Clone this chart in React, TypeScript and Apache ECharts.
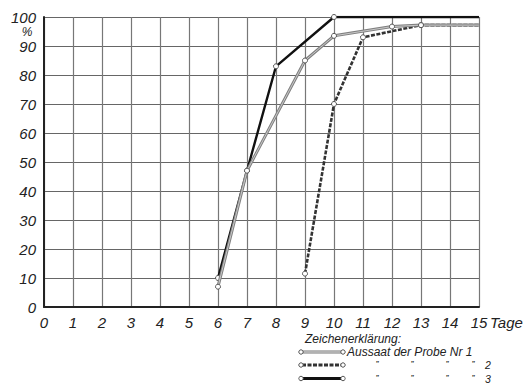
import React, { useEffect, useRef } from "react";
import * as echarts from "echarts";

const xTicks = [0, 1, 2, 3, 4, 5, 6, 7, 8, 9, 10, 11, 12, 13, 14, 15];
const yTicks = [0, 10, 20, 30, 40, 50, 60, 70, 80, 90, 100];

// Aussaat der Probe Nr 1 (grey double line)
const probe1Days = [6, 7, 9, 10, 12, 13, 15];
const probe1Vals = [7, 47, 85, 93.5, 96.7, 97.2, 97.2];
// Probe Nr 2 (dotted)
const probe2Days = [9, 10, 11, 13, 15];
const probe2Vals = [11.5, 70, 93, 97.2, 97.2];
// Probe Nr 3 (solid black)
const probe3Days = [6, 7, 8, 10, 15];
const probe3Vals = [10, 47, 83, 100, 100];

const legendTitle = "Zeichenerklärung:";
const legendRows = ["Aussaat der Probe Nr 1", "2", "3"];

const FONT = "Liberation Sans";

function pts(days: number[], vals: number[], marker: boolean) {
  return days.map((d, i) => ({
    value: [d, vals[i]],
    symbol: marker && i < days.length - 1 ? "circle" : "none",
  }));
}

export default function App() {
  const ref = useRef<HTMLDivElement>(null);
  useEffect(() => {
    if (!ref.current) return;
    const chart = echarts.init(ref.current, null, { renderer: "svg" });
    const sym = {
      symbolSize: 5,
      itemStyle: { color: "#fff", borderColor: "#555", borderWidth: 1 },
    };
    const txt = (x: number, y: number, t: string, size = 12, align = "left") => ({
      type: "text",
      x,
      y,
      style: {
        text: t,
        fill: "#222",
        fontFamily: FONT,
        fontStyle: "italic",
        fontSize: size,
        align,
        verticalAlign: "middle",
      },
    });
    const legendLine = (y: number, kind: number) => {
      const els: any[] = [];
      if (kind === 0) {
        els.push({ type: "line", shape: { x1: 302, y1: y, x2: 342, y2: y }, style: { stroke: "#777", lineWidth: 3 } });
        els.push({ type: "line", shape: { x1: 302, y1: y, x2: 342, y2: y }, style: { stroke: "#eee", lineWidth: 1 } });
      } else if (kind === 1) {
        els.push({ type: "line", shape: { x1: 302, y1: y, x2: 342, y2: y }, style: { stroke: "#333", lineWidth: 3, lineDash: [4, 1.5] } });
      } else {
        els.push({ type: "line", shape: { x1: 302, y1: y, x2: 342, y2: y }, style: { stroke: "#111", lineWidth: 3 } });
      }
      els.push({ type: "circle", shape: { cx: 301, cy: y, r: 2.2 }, style: { fill: "#fff", stroke: "#555", lineWidth: 1 } });
      els.push({ type: "circle", shape: { cx: 343, cy: y, r: 2.2 }, style: { fill: "#fff", stroke: "#555", lineWidth: 1 } });
      return els;
    };
    const ditto = (y: number) => [377, 412, 447, 473].map((x) => txt(x, y - 1, "\u201D", 9, "center"));

    chart.setOption({
      animation: false,
      backgroundColor: "#fff",
      grid: { left: 44, right: 45, top: 17, bottom: 78 },
      xAxis: {
        type: "value",
        min: xTicks[0],
        max: xTicks[xTicks.length - 1],
        interval: 1,
        axisLine: { show: true, lineStyle: { color: "#222", width: 2 } },
        axisTick: { show: false },
        axisLabel: {
          margin: 8,
          fontFamily: FONT,
          fontStyle: "italic",
          fontSize: 15,
          color: "#222",
          formatter: (v: number) => (xTicks.includes(v) ? String(v) : ""),
        },
        splitLine: { show: true, lineStyle: { color: "#777", width: 1.2 } },
      },
      yAxis: {
        type: "value",
        min: yTicks[0],
        max: yTicks[yTicks.length - 1],
        interval: 10,
        axisLine: { show: true, lineStyle: { color: "#222", width: 2 } },
        axisTick: { show: false },
        axisLabel: {
          margin: 8,
          fontFamily: FONT,
          fontStyle: "italic",
          fontSize: 15,
          color: "#222",
        },
        splitLine: { show: true, lineStyle: { color: "#666", width: 1.2 } },
      },
      series: [
        {
          type: "line",
          data: pts(probe2Days, probe2Vals, true),
          lineStyle: { color: "#333", width: 2.6, type: [4, 1.5] },
          ...sym,
          z: 3,
        },
        {
          type: "line",
          data: pts(probe3Days, probe3Vals, true),
          lineStyle: { color: "#111", width: 2.4 },
          ...sym,
          z: 4,
        },
        {
          type: "line",
          data: pts(probe1Days, probe1Vals, false),
          lineStyle: { color: "#808080", width: 3 },
          showSymbol: false,
          z: 5,
        },
        {
          type: "line",
          data: pts(probe1Days, probe1Vals, true),
          lineStyle: { color: "#c8c8c8", width: 1 },
          ...sym,
          z: 6,
        },
      ],
      graphic: [
        txt(27, 32, "%", 12, "center"),
        txt(490, 322, "Tage", 15),
        txt(305, 338.5, legendTitle, 12),
        ...legendLine(352, 0),
        txt(347, 352, legendRows[0], 12),
        ...legendLine(365, 1),
        ...ditto(365),
        txt(485, 365, legendRows[1], 10.5),
        ...legendLine(378.5, 2),
        ...ditto(378.5),
        txt(485, 378.5, legendRows[2], 10.5),
      ],
    });
    return () => chart.dispose();
  }, []);
  return <div ref={ref} style={{ width: 524, height: 385, position: "absolute", left: 0, top: 0 }} />;
}
